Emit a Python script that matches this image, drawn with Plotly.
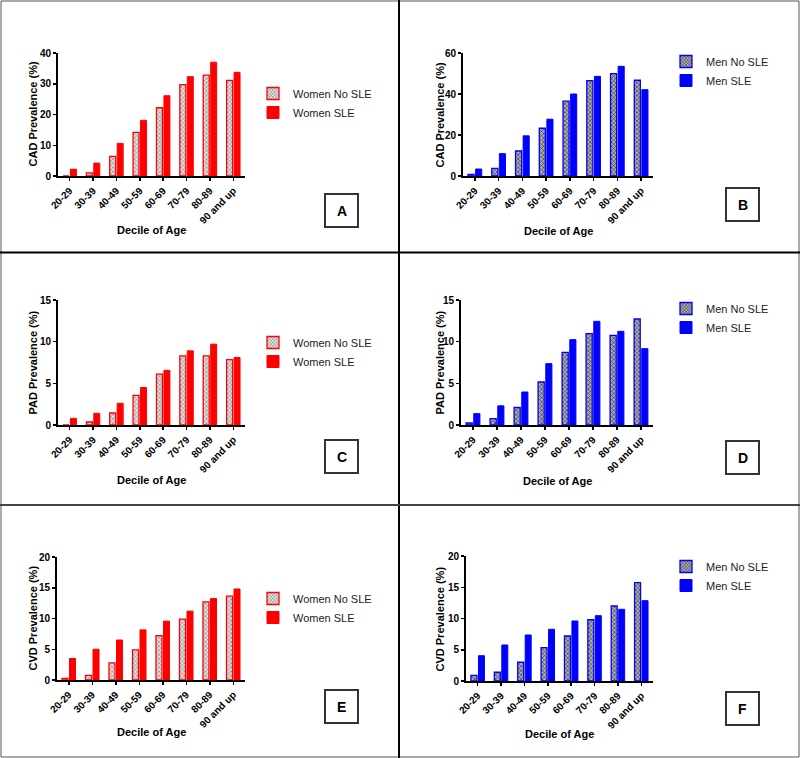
import plotly.graph_objects as go

categories = ["20-29", "30-39", "40-49", "50-59", "60-69", "70-79", "80-89", "90 and up"]

women_cad_no_sle = [0.0, 1.0, 6.4, 14.2, 22.2, 29.7, 32.8, 31.1]
women_cad_sle = [2.2, 4.2, 10.6, 18.1, 26.1, 32.3, 37.0, 33.7]
men_cad_no_sle = [0.8, 3.7, 12.2, 23.3, 36.5, 46.5, 49.9, 46.7]
men_cad_sle = [3.4, 10.9, 19.6, 27.7, 40.0, 48.6, 53.5, 42.1]

women_pad_no_sle = [0.0, 0.36, 1.44, 3.56, 6.1, 8.3, 8.3, 7.84]
women_pad_sle = [0.8, 1.4, 2.6, 4.5, 6.56, 8.9, 9.7, 8.1]
men_pad_no_sle = [0.24, 0.76, 2.1, 5.16, 8.72, 10.96, 10.76, 12.72]
men_pad_sle = [1.36, 2.3, 3.96, 7.36, 10.24, 12.44, 11.24, 9.16]

women_cvd_no_sle = [0.27, 0.76, 2.8, 4.9, 7.2, 9.9, 12.7, 13.64]
women_cvd_sle = [3.5, 5.0, 6.5, 8.15, 9.57, 11.2, 13.26, 14.8]
men_cvd_no_sle = [0.9, 1.4, 3.0, 5.33, 7.2, 9.8, 12.0, 15.73]
men_cvd_sle = [4.05, 5.76, 7.36, 8.27, 9.6, 10.45, 11.47, 12.85]

W, H = 800, 758
FONT = "Liberation Sans, Arial, sans-serif"

def px(x):
    return x / W

def py(y):
    return 1 - y / H

panels = [
    dict(key="A", x=(58, 245), y=(53, 176), ymax=40, dtick=10, ytitle="CAD Prevalence (%)",
         no=women_cad_no_sle, sle=women_cad_sle, sex="Women", ytx=32, xty=230,
         leg=(253, 79), box=(325, 194)),
    dict(key="B", x=(463, 653), y=(53, 176), ymax=60, dtick=20, ytitle="CAD Prevalence (%)",
         no=men_cad_no_sle, sle=men_cad_sle, sex="Men", ytx=439, xty=231,
         leg=(666, 47), box=(726, 188)),
    dict(key="C", x=(58, 245), y=(300, 425), ymax=15, dtick=5, ytitle="PAD Prevalence (%)",
         no=women_pad_no_sle, sle=women_pad_sle, sex="Women", ytx=32, xty=480,
         leg=(253, 328), box=(325, 440)),
    dict(key="D", x=(461, 653), y=(300, 425), ymax=15, dtick=5, ytitle="PAD Prevalence (%)",
         no=men_pad_no_sle, sle=men_pad_sle, sex="Men", ytx=439, xty=481,
         leg=(666, 294), box=(726, 441)),
    dict(key="E", x=(57, 245), y=(557, 680), ymax=20, dtick=5, ytitle="CVD Prevalence (%)",
         no=women_cvd_no_sle, sle=women_cvd_sle, sex="Women", ytx=32, xty=732,
         leg=(253, 584), box=(325, 690)),
    dict(key="F", x=(466, 653), y=(556, 681), ymax=20, dtick=5, ytitle="CVD Prevalence (%)",
         no=men_cvd_no_sle, sle=men_cvd_sle, sex="Men", ytx=439, xty=734,
         leg=(666, 552), box=(726, 692)),
]

fig = go.Figure()
annotations = []
shapes = []
layout = {}

def ann(x, y, text, size, angle=0):
    return dict(x=px(x), y=py(y), xref="paper", yref="paper", text=text, textangle=angle,
                showarrow=False, xanchor="center", yanchor="middle",
                font=dict(family=FONT, size=size, color="black", weight="bold"))

for i, p in enumerate(panels):
    n = i + 1
    xa = "x" if n == 1 else f"x{n}"
    ya = "y" if n == 1 else f"y{n}"
    xkey = "xaxis" if n == 1 else f"xaxis{n}"
    ykey = "yaxis" if n == 1 else f"yaxis{n}"
    lkey = "legend" if n == 1 else f"legend{n}"
    color = "#ff0000" if p["sex"] == "Women" else "#0000ff"
    if p["sex"] == "Women":
        pat = dict(shape="x", fgcolor="#8a8a8a", bgcolor="#e2e2e2", size=3, solidity=0.4)
    else:
        pat = dict(shape="x", fgcolor="#3a3a3a", bgcolor="#b0b0b0", size=3, solidity=0.4)

    fig.add_trace(go.Bar(
        x=categories, y=p["no"], name=f"{p['sex']} No SLE",
        marker=dict(color="#d0d0d0", line=dict(color=color, width=1.3), pattern=pat),
        xaxis=xa, yaxis=ya, legend=lkey,
    ))
    fig.add_trace(go.Bar(
        x=categories, y=p["sle"], name=f"{p['sex']} SLE",
        marker=dict(color=color, line=dict(color=color, width=1)),
        xaxis=xa, yaxis=ya, legend=lkey,
    ))

    layout[xkey] = dict(
        domain=[px(p["x"][0]), px(p["x"][1])], anchor=ya, automargin=False,
        range=[-0.5, 7.5], showline=True, linecolor="black", linewidth=2,
        ticks="outside", ticklen=3, tickwidth=1.5, tickcolor="black",
        tickangle=-45, tickfont=dict(family=FONT, size=10, color="black", weight="bold"),
        showgrid=False, zeroline=False, fixedrange=True,
    )
    layout[ykey] = dict(
        domain=[py(p["y"][1]), py(p["y"][0])], anchor=xa, automargin=False,
        range=[0, p["ymax"]], dtick=p["dtick"], showline=True, linecolor="black", linewidth=2,
        ticks="outside", ticklen=3, tickwidth=1.5, tickcolor="black",
        tickfont=dict(family=FONT, size=10, color="black", weight="bold"),
        showgrid=False, zeroline=False, fixedrange=True,
    )
    layout[lkey] = dict(
        x=px(p["leg"][0]), y=py(p["leg"][1]), xanchor="left", yanchor="top",
        font=dict(family=FONT, size=11, color="#222"), bgcolor="rgba(0,0,0,0)",
        itemwidth=30, tracegroupgap=0, traceorder="normal",
    )

    annotations.append(ann(p["ytx"], (p["y"][0] + p["y"][1]) / 2, p["ytitle"], 11, -90))
    annotations.append(ann((p["x"][0] + p["x"][1]) / 2, p["xty"], "Decile of Age", 11))
    bx, by = p["box"]
    shapes.append(dict(type="rect", xref="paper", yref="paper",
                       x0=px(bx), x1=px(bx + 33), y0=py(by + 33), y1=py(by),
                       line=dict(color="#333", width=2)))
    annotations.append(ann(bx + 16.5, by + 16.5, p["key"], 14))

# panel borders
shapes.append(dict(type="rect", xref="paper", yref="paper", x0=px(1), x1=px(799), y0=py(757), y1=py(1),
                   line=dict(color="#555", width=1)))
shapes.append(dict(type="line", xref="paper", yref="paper", x0=px(399), x1=px(399), y0=0, y1=1,
                   line=dict(color="black", width=2)))
shapes.append(dict(type="line", xref="paper", yref="paper", x0=0, x1=1, y0=py(252.5), y1=py(252.5),
                   line=dict(color="black", width=2)))
shapes.append(dict(type="line", xref="paper", yref="paper", x0=0, x1=1, y0=py(505), y1=py(505),
                   line=dict(color="#444", width=2)))

fig.update_layout(
    template="none",
    width=W, height=H, margin=dict(l=0, r=0, t=0, b=0, pad=0, autoexpand=False),
    paper_bgcolor="white", plot_bgcolor="white",
    barmode="group", bargap=0.36, bargroupgap=0.2,
    annotations=annotations, shapes=shapes,
    font=dict(family=FONT), hovermode=False,
    **layout,
)

fig.write_html(
    "out.html",
    config={"displayModeBar": False, "staticPlot": True},
    post_script="document.body.style.margin='0';document.body.style.overflow='hidden';",
)
